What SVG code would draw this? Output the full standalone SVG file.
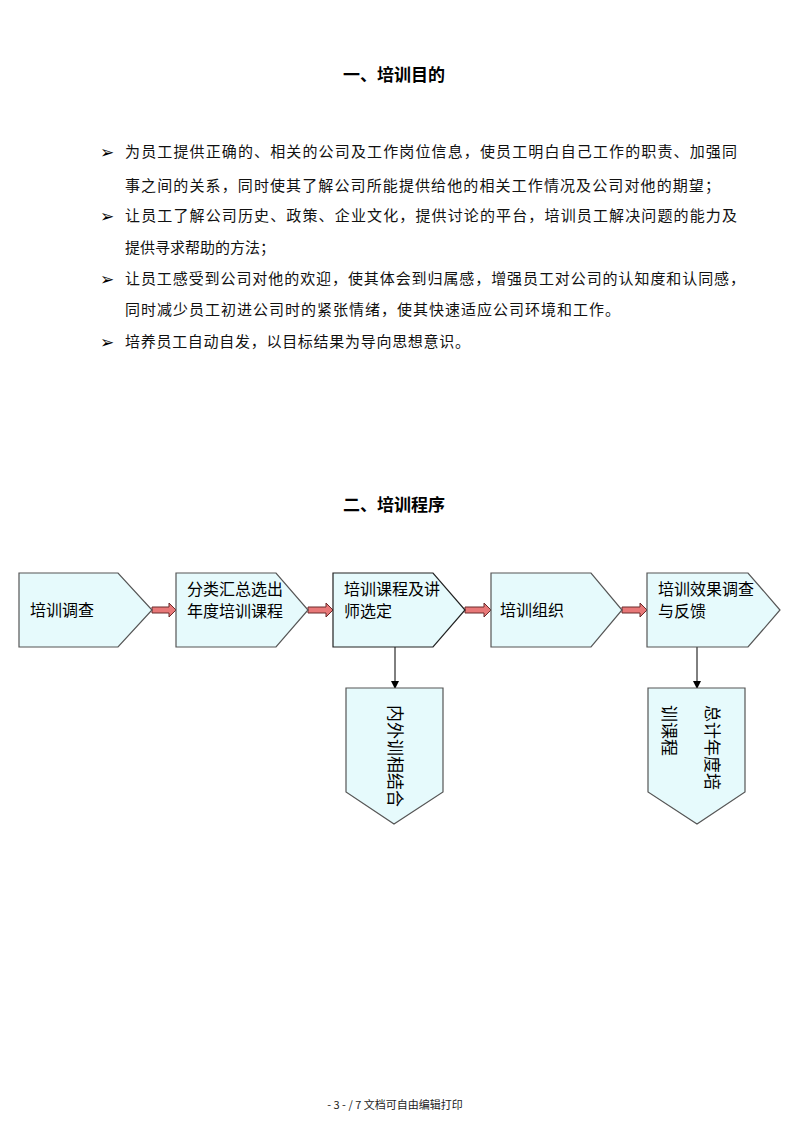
<svg xmlns="http://www.w3.org/2000/svg" width="800" height="1132" viewBox="0 0 800 1132">
<style>
.h{font-family:"Noto Sans CJK SC","Noto Sans",sans-serif;font-size:17px;font-weight:bold;fill:#000}
.p{font-family:"Noto Sans CJK SC","Noto Sans",sans-serif;font-size:15px;fill:#111}
.b{font-family:"DejaVu Sans",sans-serif;font-size:17px;font-weight:bold;fill:#000}
.n{fill:#e6fafc;stroke:#555;stroke-width:1.2}
.nt{font-family:"Noto Sans CJK SC","Noto Sans",sans-serif;font-size:16px;fill:#000}
.ba{fill:#e87878;stroke:#6a2a2a;stroke-width:1}
.ln{stroke:#000;stroke-width:1;fill:none}
.f{font-family:"Noto Sans CJK SC","Noto Sans",sans-serif;font-size:11px;fill:#222}
</style>
<defs>
<marker id="ah" markerWidth="8" markerHeight="8" refX="7" refY="4" orient="auto" markerUnits="userSpaceOnUse">
<path d="M0,0 L8,4 L0,8 z" fill="#000"/>
</marker>
</defs>
<rect width="800" height="1132" fill="#fff"/>
<text class="h" x="394" y="81" text-anchor="middle">一、培训目的</text>
<g id="bullets">
<text class="b" x="100" y="158">➢</text>
<text class="p" x="125" y="157" textLength="612" lengthAdjust="spacing">为员工提供正确的、相关的公司及工作岗位信息，使员工明白自己工作的职责、加强同</text>
<text class="p" x="125" y="191" textLength="595" lengthAdjust="spacing">事之间的关系，同时使其了解公司所能提供给他的相关工作情况及公司对他的期望；</text>
<text class="b" x="100" y="222">➢</text>
<text class="p" x="125" y="221" textLength="612" lengthAdjust="spacing">让员工了解公司历史、政策、企业文化，提供讨论的平台，培训员工解决问题的能力及</text>
<text class="p" x="125" y="253" textLength="150" lengthAdjust="spacing">提供寻求帮助的方法；</text>
<text class="b" x="100" y="285">➢</text>
<text class="p" x="125" y="284" textLength="620" lengthAdjust="spacing">让员工感受到公司对他的欢迎，使其体会到归属感，增强员工对公司的认知度和认同感，</text>
<text class="p" x="125" y="315" textLength="495" lengthAdjust="spacing">同时减少员工初进公司时的紧张情绪，使其快速适应公司环境和工作。</text>
<text class="b" x="100" y="348">➢</text>
<text class="p" x="125" y="347" textLength="345" lengthAdjust="spacing">培养员工自动自发，以目标结果为导向思想意识。</text>
</g>
<text class="h" x="394" y="511" text-anchor="middle">二、培训程序</text>
<g id="connectors">
<polygon class="ba" points="152,607 169,607 169,603 176,610 169,617 169,613 152,613"/>
<polygon class="ba" points="308,607 326,607 326,603 333,610 326,617 326,613 308,613"/>
<polygon class="ba" points="465,607 484,607 484,603 491,610 484,617 484,613 465,613"/>
<polygon class="ba" points="622,607 640,607 640,603 647,610 640,617 640,613 622,613"/>
<line class="ln" x1="395" y1="647" x2="395" y2="688" marker-end="url(#ah)"/>
<line class="ln" x1="697" y1="647" x2="697" y2="688" marker-end="url(#ah)"/>
</g>
<g id="n1">
<polygon class="n" points="19,573 118,573 152,610 118,647 19,647"/>
<text class="nt" x="30" y="616">培训调查</text>
</g>
<g id="n2">
<polygon class="n" points="176,573 276,573 308,610 276,647 176,647"/>
<text class="nt" x="187" y="595">分类汇总选出</text>
<text class="nt" x="187" y="617">年度培训课程</text>
</g>
<g id="n3">
<polygon class="n" points="333,573 433,573 465,610 433,647 333,647" style="stroke:#222"/>
<text class="nt" x="344" y="595">培训课程及讲</text>
<text class="nt" x="344" y="617">师选定</text>
</g>
<g id="n4">
<polygon class="n" points="491,573 591,573 622,610 591,647 491,647"/>
<text class="nt" x="500" y="616">培训组织</text>
</g>
<g id="n5">
<polygon class="n" points="647,573 748,573 780,610 748,647 647,647"/>
<text class="nt" x="658" y="595">培训效果调查</text>
<text class="nt" x="658" y="617">与反馈</text>
</g>
<g id="n6">
<polygon class="n" points="346,688 443,688 443,792 394,824 346,792"/>
<text class="nt" transform="translate(395,705) rotate(90)" x="0" y="6" style="font-size:17px">内外训相结合</text>
</g>
<g id="n7">
<polygon class="n" points="648,688 745,688 745,792 697,824 648,792"/>
<text class="nt" transform="translate(712,705) rotate(90)" x="0" y="6" style="font-size:17px">总计年度培</text>
<text class="nt" transform="translate(669,705) rotate(90)" x="0" y="6" style="font-size:17px">训课程</text>
</g>
<text class="f" x="395" y="1109" text-anchor="middle">- 3 - / 7 文档可自由编辑打印</text>
</svg>
